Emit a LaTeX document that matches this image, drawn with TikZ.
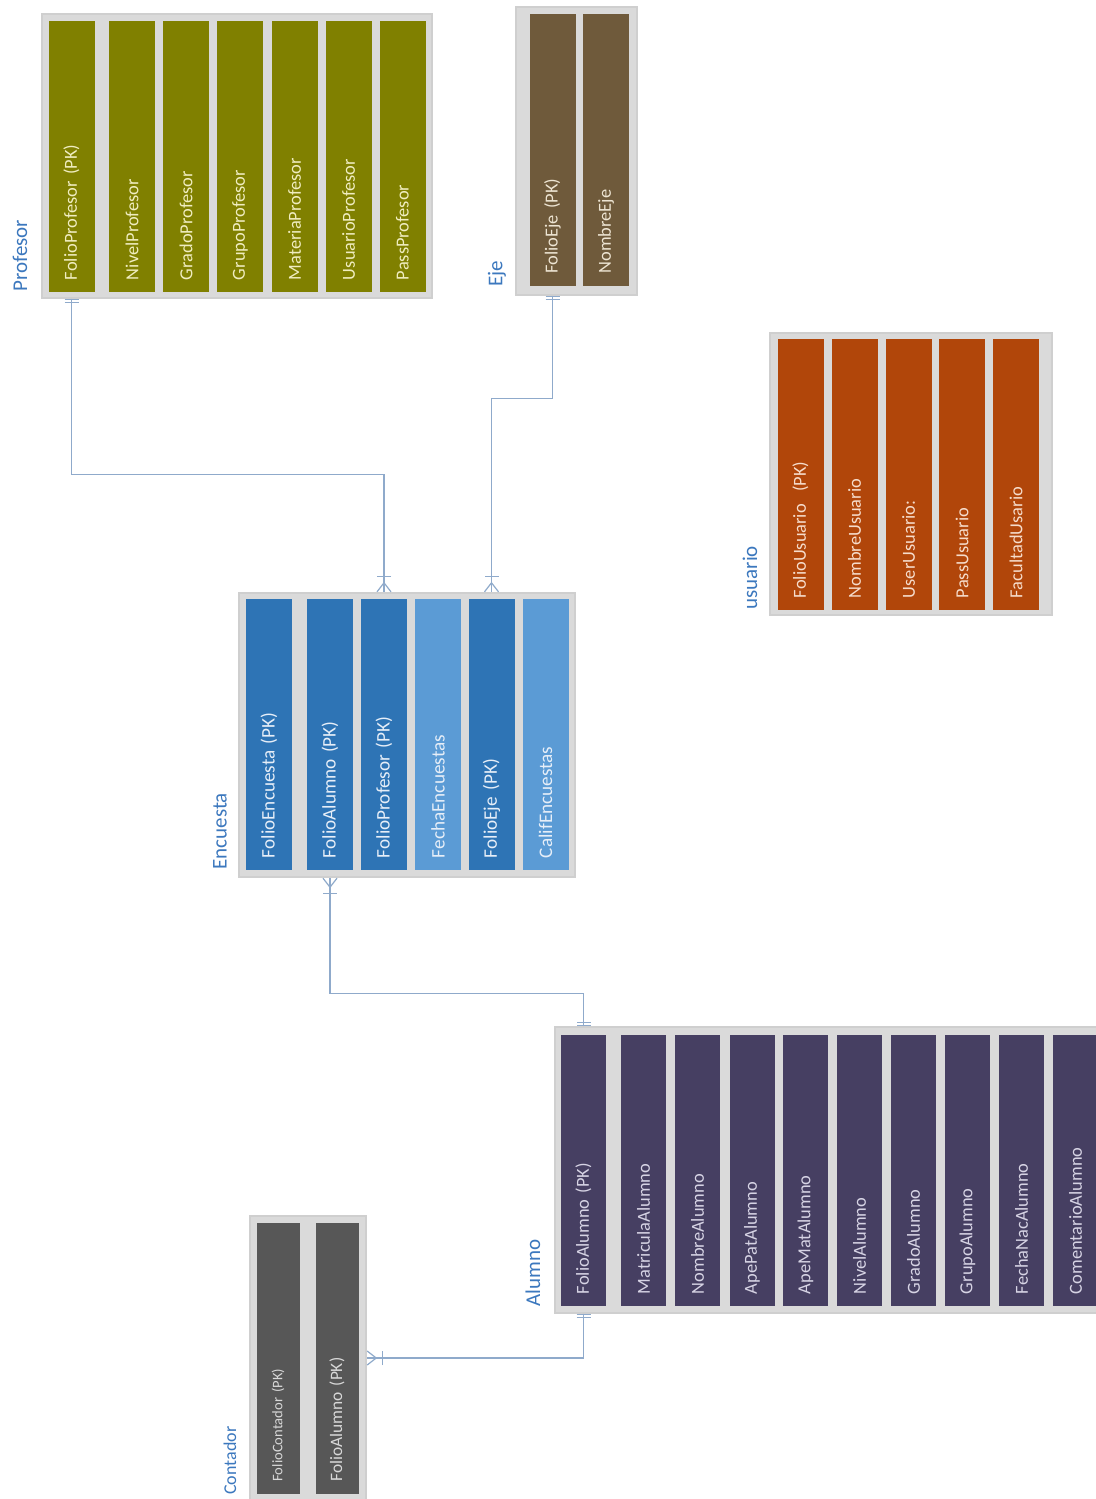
\documentclass[tikz,border=0pt]{standalone}
\usepackage{fontspec}
\setmainfont{Carlito}
\usetikzlibrary{arrows.meta}

\definecolor{colTabla}{HTML}{DADADA}
\definecolor{colBorde}{HTML}{CFCFCF}
\definecolor{colTitulo}{HTML}{3C78BE}
\definecolor{colRel}{HTML}{8FAACB}
\definecolor{colProf}{HTML}{808000}
\definecolor{txtProf}{HTML}{F0EDC0}
\definecolor{colEje}{HTML}{6F5A3B}
\definecolor{txtEje}{HTML}{EDE4D2}
\definecolor{colUsu}{HTML}{B1460A}
\definecolor{txtUsu}{HTML}{F6DCCB}
\definecolor{colEncA}{HTML}{2E74B5}
\definecolor{colEncB}{HTML}{5B9BD5}
\definecolor{txtEnc}{HTML}{E6EEF8}
\definecolor{colAlu}{HTML}{463F62}
\definecolor{txtAlu}{HTML}{D6D3E4}
\definecolor{colCont}{HTML}{575757}
\definecolor{txtCont}{HTML}{D8D8D8}

\tikzset{
    uno/.tip={Bar[width=7pt, line width=0.6pt, sep=1.2pt] Bar[width=7pt, line width=0.6pt]},
    muchos/.tip={Bar[width=7pt, line width=0.6pt, sep=2.5pt] Straight Barb[reversed, length=4.5pt, width=7pt, line width=0.6pt]},
    tabla/.style={
        draw=colBorde, fill=colTabla, line width=0.6pt, inner sep=0pt
    },
    campo/.style={
        rotate=90, inner xsep=6pt, inner ysep=0pt,
        minimum width=135.5pt, minimum height=23pt,
        text width=123.5pt, align=left,
        font=\fontsize{9.2}{11}\selectfont
    },
    titulo/.style={
        rotate=90, anchor=west, inner sep=0pt, text=colTitulo,
        font=\fontsize{10.5}{12}\selectfont
    },
    rel/.style={
        draw=colRel, line width=0.75pt,
        postaction={draw=colRel, uno-muchos}
    }
}

\begin{document}
\begin{tikzpicture}[
    x=0.5pt, y=-0.5pt,
    prof/.style={campo, fill=colProf, text=txtProf},
    eje/.style={campo, fill=colEje, text=txtEje},
    usu/.style={campo, fill=colUsu, text=txtUsu},
    encA/.style={campo, fill=colEncA, text=txtEnc, font=\fontsize{9.6}{11}\selectfont},
    encB/.style={campo, fill=colEncB, text=txtEnc, font=\fontsize{9.6}{11}\selectfont},
    alu/.style={campo, fill=colAlu, text=txtAlu, minimum height=22.5pt},
    cont/.style={campo, fill=colCont, text=txtCont, minimum height=21.5pt}
]
    \useasboundingbox[fill=white] (0,0) rectangle (1096,1499);

    % Tablas
    \node[tabla, minimum width=195pt, minimum height=142pt]   (profesor) at (237,156)    {};
    \node[tabla, minimum width=60.5pt, minimum height=144pt]  (eje)      at (576.5,151)  {};
    \node[tabla, minimum width=141pt, minimum height=141pt]   (usuario)  at (911,474)    {};
    \node[tabla, minimum width=168pt, minimum height=142pt]   (encuesta) at (407,735)    {};
    \node[tabla, minimum width=277.5pt, minimum height=143pt] (alumno)   at (832.5,1170) {};
    \node[tabla, minimum width=58pt, minimum height=142pt]    (contador) at (308,1358)   {};

    % Titulos
    \node[titulo] at (20,292)  {Profesor};
    \node[titulo] at (497,287) {Eje};
    \node[titulo] at (750,610) {usuario};
    \node[titulo] at (220,870) {Encuesta};
    \node[titulo] at (533,1307) {Alumno};
    \node[titulo, font=\fontsize{9}{11}\selectfont] at (230,1495) {Contador};

    % Profesor
    \node[prof] (p1) at (71.5,156.5)  {FolioProfesor (PK)};
    \node[prof] (p2) at (132,156.5)   {NivelProfesor};
    \node[prof] (p3) at (186,156.5)   {GradoProfesor};
    \node[prof] (p4) at (240,156.5)   {GrupoProfesor};
    \node[prof] (p5) at (294.5,156.5) {MateriaProfesor};
    \node[prof] (p6) at (348.5,156.5) {UsuarioProfesor};
    \node[prof] (p7) at (402.5,156.5) {PassProfesor};

    % Eje
    \node[eje, minimum width=136pt] (j1) at (552.5,150) {FolioEje (PK)};
    \node[eje, minimum width=136pt] (j2) at (606,150)   {NombreEje};

    % usuario
    \node[usu] (u1) at (800.5,474.5) {FolioUsuario\ \ (PK)};
    \node[usu] (u2) at (854.5,474.5) {NombreUsuario};
    \node[usu] (u3) at (908.5,474.5) {UserUsuario:};
    \node[usu] (u4) at (962,474.5)   {PassUsuario};
    \node[usu] (u5) at (1016,474.5)  {FacultadUsario};

    % Encuesta
    \node[encA] (e1) at (269,734.5)   {FolioEncuesta (PK)};
    \node[encA] (e2) at (330,734.5)   {FolioAlumno (PK)};
    \node[encA] (e3) at (384,734.5)   {FolioProfesor (PK)};
    \node[encB] (e4) at (438,734.5)   {FechaEncuestas};
    \node[encA] (e5) at (491.5,734.5) {FolioEje (PK)};
    \node[encB] (e6) at (545.5,734.5) {CalifEncuestas};

    % Alumno
    \node[alu] (a1)  at (583.5,1170.5)  {FolioAlumno (PK)};
    \node[alu] (a2)  at (643.5,1170.5)  {MatriculaAlumno};
    \node[alu] (a3)  at (697.5,1170.5)  {NombreAlumno};
    \node[alu] (a4)  at (752,1170.5)    {ApePatAlumno};
    \node[alu] (a5)  at (805.5,1170.5)  {ApeMatAlumno};
    \node[alu] (a6)  at (859.5,1170.5)  {NivelAlumno};
    \node[alu] (a7)  at (913.5,1170.5)  {GradoAlumno};
    \node[alu] (a8)  at (967.5,1170.5)  {GrupoAlumno};
    \node[alu] (a9)  at (1021.5,1170.5) {FechaNacAlumno};
    \node[alu] (a10) at (1075.5,1170.5) {ComentarioAlumno};

    % Contador
    \node[cont, font=\fontsize{7.3}{9}\selectfont] (c1) at (278,1358) {FolioContador (PK)};
    \node[cont, font=\fontsize{8.7}{10}\selectfont] (c2) at (337,1358) {FolioAlumno (PK)};

    % Relaciones
    \draw[rel] (p1 |- profesor.south) -- ++(0,176) -| (e3 |- encuesta.north);
    \draw[rel] (j1 |- eje.south) -- ++(0,103) -| (e5 |- encuesta.north);
    \draw[rel] (a1 |- alumno.north) -- ++(0,-33) -| (e2 |- encuesta.south);
    \draw[rel] (a1 |- alumno.south) |- (contador.east);

\end{tikzpicture}
\end{document}
